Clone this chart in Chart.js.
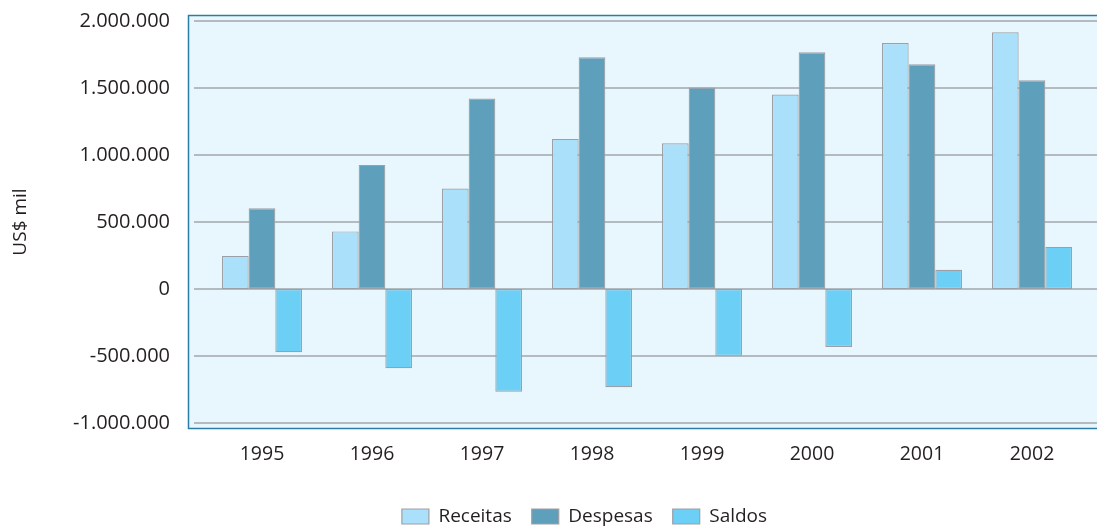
<!DOCTYPE html>
<html>
<head>
<meta charset="utf-8">
<script src="https://cdn.jsdelivr.net/npm/chart.js@4.4.1/dist/chart.umd.min.js"></script>
<style>
    html, body { margin: 0; padding: 0; background: #fff; }
    #wrap { width: 1097px; height: 526px; position: relative; }
</style>
</head>
<body>
<div id="wrap"><canvas id="chart"></canvas></div>
<script>
// Data (US$ mil)
const years = ['1995', '1996', '1997', '1998', '1999', '2000', '2001', '2002'];
const receitas = [247000, 430000, 750000, 1120000, 1088000, 1451000, 1836000, 1916000];
const despesas = [602000, 926000, 1422000, 1730000, 1503000, 1766000, 1677000, 1557000];
const saldos = [-472000, -591000, -767000, -733000, -499000, -433000, 144000, 314000];
const yTicks = [-1000000, -500000, 0, 500000, 1000000, 1500000, 2000000];

const FONT = "'Open Sans', 'Noto Sans', sans-serif";
const TEXT = '#231f20';

// 1.000.000 style
function fmt(v) {
    const s = Math.abs(v).toString().replace(/\B(?=(\d{3})+(?!\d))/g, '.');
    return (v < 0 ? '-' : '') + s;
}

// panel background, frame and gridlines (a bit wider than the bar area)
const panel = {
    id: 'panel',
    beforeDatasetsDraw(chart) {
        const { ctx, scales: { y } } = chart;
        const w = chart.width;
        ctx.save();
        ctx.fillStyle = '#e8f6fd';
        ctx.fillRect(188, 15, w - 188, 414);
        ctx.strokeStyle = '#a3a7ab';
        ctx.lineWidth = 1.5;
        yTicks.forEach(v => {
            const py = y.getPixelForValue(v);
            ctx.beginPath();
            ctx.moveTo(194, py);
            ctx.lineTo(w, py);
            ctx.stroke();
        });
        ctx.strokeStyle = '#2a7ea6';
        ctx.lineWidth = 1.5;
        ctx.strokeRect(188.5, 15.5, w, 413);
        ctx.restore();
    }
};

// nudge legend into place
const legendShift = {
    id: 'legendShift',
    afterLayout(chart) {
        const lg = chart.legend;
        lg.top += 10; lg.bottom += 10;
        lg.left += 41; lg.right += 41;
    }
};

const bar = (label, data, color) => ({
    label,
    data,
    backgroundColor: color,
    borderColor: '#9ba0a6',
    borderWidth: 1.2,
    borderSkipped: false,
    categoryPercentage: 0.727,
    barPercentage: 1
});

new Chart(document.getElementById('chart'), {
    type: 'bar',
    data: {
        labels: years,
        datasets: [
            bar('Receitas', receitas, '#abe0fa'),
            bar('Despesas', despesas, '#5e9fbb'),
            bar('Saldos', saldos, '#6ccff5')
        ]
    },
    options: {
        responsive: true,
        maintainAspectRatio: false,
        animation: false,
        layout: { padding: { top: 21, right: 10, left: 0, bottom: 0 } },
        plugins: {
            legend: {
                position: 'bottom',
                labels: {
                    boxWidth: 27,
                    boxHeight: 15,
                    padding: 20,
                    color: TEXT,
                    font: { family: FONT, size: 19 }
                }
            },
            tooltip: { enabled: false }
        },
        scales: {
            x: {
                grid: { display: false, drawTicks: false },
                border: { display: false },
                ticks: { color: TEXT, padding: 20, font: { family: FONT, size: 19.5 } },
                afterFit(scale) { scale.height = 54; }
            },
            y: {
                min: -1000000,
                max: 2000000,
                grid: { display: false, drawTicks: true, tickLength: 32 },
                border: { display: false },
                afterBuildTicks(scale) { scale.ticks = yTicks.map(v => ({ value: v })); },
                afterFit(scale) { scale.width = 207; },
                ticks: {
                    color: TEXT,
                    padding: 5,
                    font: { family: FONT, size: 20 },
                    callback: v => fmt(v)
                },
                title: {
                    display: true,
                    text: 'US$ mil',
                    color: TEXT,
                    padding: { top: 9, bottom: 0 },
                    font: { family: FONT, size: 19 }
                }
            }
        }
    },
    plugins: [panel, legendShift]
});
</script>
</body>
</html>
